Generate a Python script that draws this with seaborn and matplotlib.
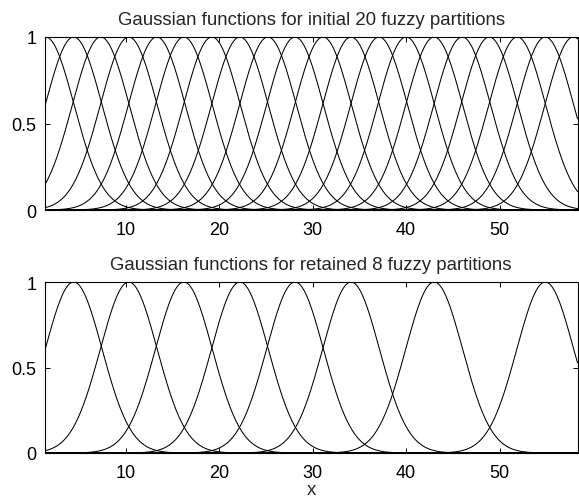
import numpy as np
import pandas as pd
import matplotlib
matplotlib.use("Agg")
import matplotlib.pyplot as plt
import seaborn as sns

# Centres of the initial Gaussian membership functions
initial_centers = [1.4, 4.4, 7.3, 10.3, 13.3, 16.2, 19.2, 22.2, 25.2, 28.1,
                   31.1, 34.1, 37.1, 40.0, 43.0, 46.0, 48.9, 51.9, 54.9, 57.9]
# Centres kept after pruning
retained_centers = [4.4, 10.3, 16.2, 22.2, 28.1, 34.1, 43.0, 54.9]
sigma = 3.05

x_min, x_max = 1.33, 58.35
x_ticks = [10, 20, 30, 40, 50]
y_ticks = [0, 0.5, 1]
y_tick_labels = ["0", "0.5", "1"]
titles = ["Gaussian functions for initial 20 fuzzy partitions",
          "Gaussian functions for retained 8 fuzzy partitions"]


def membership_frame(centers):
    grid = np.linspace(x_min, x_max, 600)
    rows = []
    for k, c in enumerate(centers):
        mu = np.exp(-((grid - c) ** 2) / (2 * sigma ** 2))
        rows.append(pd.DataFrame({"x": grid, "mu": mu, "partition": k}))
    return pd.concat(rows, ignore_index=True)


sns.set_style("ticks")
plt.rcParams["font.family"] = ["Liberation Sans", "DejaVu Sans"]

fig = plt.figure(figsize=(5.79, 5.02), dpi=100)
ax_top = fig.add_axes([45 / 579, 1 - 211 / 502, 532.5 / 579, 173 / 502])
ax_bot = fig.add_axes([45 / 579, 1 - 454 / 502, 532.5 / 579, 171 / 502])

for ax, centers, title in zip([ax_top, ax_bot],
                              [initial_centers, retained_centers], titles):
    df = membership_frame(centers)
    sns.lineplot(data=df, x="x", y="mu", units="partition", estimator=None,
                 color="black", linewidth=0.75, ax=ax, legend=False)
    ax.set_xlim(x_min, x_max)
    ax.set_ylim(0, 1)
    ax.set_xticks(x_ticks)
    ax.set_xticklabels([str(t) for t in x_ticks])
    ax.set_yticks(y_ticks)
    ax.set_yticklabels(y_tick_labels)
    ax.tick_params(direction="in", length=3.5, width=0.7, top=True, right=True,
                   labelsize=13, colors="black")
    ax.tick_params(axis="x", pad=8.2)
    ax.tick_params(axis="y", pad=6)
    for sp in ax.spines.values():
        sp.set_visible(True)
        sp.set_linewidth(0.8)
        sp.set_color("black")
    ax.set_title(title, fontsize=13.4, pad=9.5)
    ax.set_ylabel("")
    ax.set_xlabel("")

ax_bot.set_xlabel("x", fontsize=13.4, labelpad=0)

fig.savefig("out.png", dpi=100, facecolor="white")
